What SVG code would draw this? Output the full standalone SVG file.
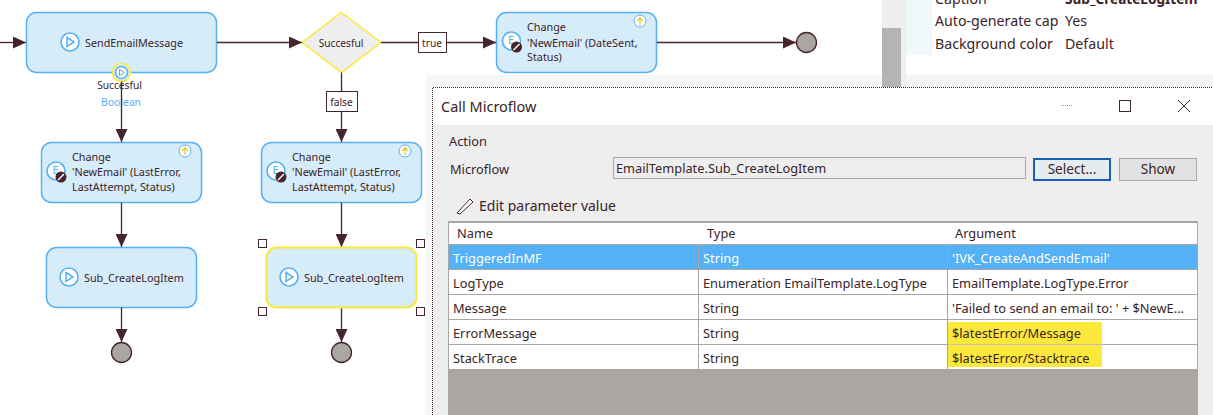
<svg xmlns="http://www.w3.org/2000/svg" width="1213" height="415" viewBox="0 0 1213 415">
<style>
text{font-family:"Noto Sans","Open Sans","Liberation Sans",sans-serif;fill:#3a2428}
.n{font-size:10.800px}
.s{font-size:10.200px}
.u{font-size:12.800px}
.p{font-size:14.200px}
.b{font-size:13.600px}
.box{fill:#d6ecf9;stroke:#55b1f6;stroke-width:1.5}
.sel{fill:#d6ecf9;stroke:#fce83a;stroke-width:2}
.c{fill:none;stroke:#45252b;stroke-width:1.300}
.end{fill:#aaa6a3;stroke:#45252b;stroke-width:1.300}
.ic{fill:#fff;stroke:#55b1f6;stroke-width:1.600}
.tri{fill:none;stroke:#55b1f6;stroke-width:1.5}
.h{fill:#fff;stroke:#45252b;stroke-width:1}
.g{stroke:#aaa6a3;stroke-width:1;fill:none}
</style>
<defs>
<marker id="a" markerUnits="userSpaceOnUse" markerWidth="13" markerHeight="12" refX="13" refY="6" orient="auto"><path d="M0 0L13 6L0 12Z" fill="#45252b"/></marker>
<g id="play"><circle r="9" class="ic"/><path d="M-3-4.500L4 0L-3 4.500Z" class="tri"/></g>
<g id="chg"><circle r="9" class="ic"/><text x="-3.500" y="3" style="font-size:11px;fill:#55b1f6">E</text><circle cx="5" cy="6" r="5.500" fill="#45252b"/><path d="M2 9L8 3" stroke="#fff" stroke-width="1.500"/></g>
<g id="up"><circle r="6" fill="#fff" stroke="#55b1f6"/><path d="M0 4V-3M-3 0L0-3.500L3 0" fill="none" stroke="#e8c72e" stroke-width="1.200"/></g>
</defs>
<rect width="1213" height="415" fill="#fff"/>
<g id="send"><rect class="box" x="26.500" y="12.500" width="190" height="60" rx="10"/><use href="#play" x="70" y="42"/><text class="n" x="85" y="46.500">SendEmailMessage</text></g>
<g id="param"><circle cx="121.500" cy="72.500" r="9" fill="#d6ecf9" stroke="#fce83a" stroke-width="1.500"/><circle cx="121.500" cy="72.500" r="6" class="ic"/><path d="M119.500 69.500L124.500 72.500L119.500 75.500Z" fill="none" stroke="#55b1f6"/><text class="s" x="119.500" y="89" text-anchor="middle">Succesful</text><text x="121" y="106" text-anchor="middle" style="font-size:10.300px;fill:#55b1f6">Boolean</text></g>
<g id="decision"><path d="M341.500 12.500L381 42.500L341.500 72.500L302 42.500Z" fill="#eee" stroke="#fce83a" stroke-width="1.500"/><text class="s" x="341" y="46.500" text-anchor="middle">Succesful</text></g>
<g id="change-true"><rect class="box" x="496.500" y="12.500" width="160" height="60" rx="10"/><use href="#chg" x="511.500" y="41"/><use href="#up" x="640" y="21"/><text class="n" x="527" y="31">Change</text><text class="n" x="527" y="46.500">'NewEmail' (DateSent,</text><text class="n" x="527" y="61">Status)</text></g>
<g id="end-top"><circle class="end" cx="806.500" cy="42.500" r="10"/></g>
<g id="change-a"><rect class="box" x="41.500" y="142.500" width="160" height="60" rx="10"/><use href="#chg" x="56" y="171"/><use href="#up" x="185" y="151"/><text class="n" x="72" y="161">Change</text><text class="n" x="72" y="176">'NewEmail' (LastError,</text><text class="n" x="72" y="191">LastAttempt, Status)</text></g>
<g id="change-b"><rect class="box" x="261.500" y="142.500" width="160" height="60" rx="10"/><use href="#chg" x="276" y="171"/><use href="#up" x="405" y="151"/><text class="n" x="292" y="161">Change</text><text class="n" x="292" y="176">'NewEmail' (LastError,</text><text class="n" x="292" y="191">LastAttempt, Status)</text></g>
<g id="sub-a"><rect class="box" x="46.500" y="247.500" width="150" height="60" rx="10"/><use href="#play" x="69" y="277"/><text class="n" x="84" y="281.500">Sub_CreateLogItem</text></g>
<g id="end-a"><circle class="end" cx="121.500" cy="352.500" r="10"/></g>
<g id="end-b"><circle class="end" cx="341.500" cy="352.500" r="10"/></g>
<g id="connectors">
<path class="c" d="M0 42.500H26" marker-end="url(#a)"/>
<path class="c" d="M217 42.500H302" marker-end="url(#a)"/>
<path class="c" d="M381 42.500H496" marker-end="url(#a)"/>
<path class="c" d="M657 42.500H796" marker-end="url(#a)"/>
<path class="c" d="M341.500 72.500V142" marker-end="url(#a)"/>
<path class="c" d="M121.500 81.500V142" marker-end="url(#a)"/>
<path class="c" d="M121.500 202.500V247" marker-end="url(#a)"/>
<path class="c" d="M341.500 202.500V247" marker-end="url(#a)"/>
<path class="c" d="M121.500 307.500V342" marker-end="url(#a)"/>
<path class="c" d="M341.500 307.500V342" marker-end="url(#a)"/>
</g>
<g id="label-true"><rect x="418.500" y="32.500" width="28" height="20" class="h"/><text class="s" x="432" y="46.500" text-anchor="middle">true</text></g>
<g id="label-false"><rect x="326.500" y="91.500" width="31" height="20" class="h"/><text class="s" x="341.500" y="105.500" text-anchor="middle">false</text></g>
<g id="properties">
<rect x="906" y="0" width="26" height="55" fill="#f1f8fc"/>
<rect x="882" y="0" width="24" height="87" fill="#eee"/>
<rect x="882" y="28" width="19" height="59" fill="#b4b4b4"/>
<rect x="906" y="75" width="307" height="12" fill="#f5f5f5"/>
<text class="b" x="1065" y="4" style="font-weight:700">Sub_CreateLogItem</text>
<text class="p" x="935" y="4">Caption</text>
<text class="p" x="935" y="26">Auto-generate cap</text>
<rect x="1061" y="10" width="3" height="24" fill="#fff"/>
<text class="p" x="1065" y="26">Yes</text>
<text class="p" x="935" y="49">Background color</text>
<text class="p" x="1065" y="49">Default</text>
</g>
<g id="dialog">
<rect x="426" y="75" width="6" height="340" fill="#f7f7f7"/>
<rect x="432" y="75" width="450" height="12" fill="#f7f7f7"/>
<rect x="432" y="87" width="781" height="328" fill="#eee"/>
<rect x="432" y="87" width="781" height="38" fill="#fff"/>
<path d="M432.500 415V87.500H1213" fill="none" stroke="#45252b" stroke-dasharray="1 1"/>
<text x="441" y="112" style="font-size:14.500px">Call Microflow</text>
<path d="M1061 105.500H1073" stroke="#8a9aa8" stroke-dasharray="1 1"/>
<rect x="1119.500" y="100.500" width="11" height="11" fill="none" stroke="#45252b"/>
<path d="M1178 100L1190 112M1190 100L1178 112" stroke="#45252b" fill="none"/>
<rect x="440.500" y="140.500" width="765" height="270" fill="none" stroke="#dbeaf3" stroke-dasharray="1 2"/>
<text class="u" x="449" y="146">Action</text>
<text class="u" x="450" y="174">Microflow</text>
<rect x="613.500" y="157.500" width="412" height="21" fill="#eee" stroke="#aaa6a3"/>
<text class="u" x="616" y="173">EmailTemplate.Sub_CreateLogItem</text>
<rect x="1034" y="159" width="76" height="21" fill="#e4ecf0" stroke="#1a5fb4" stroke-width="2"/>
<text class="b" x="1072" y="174" text-anchor="middle">Select...</text>
<rect x="1119.500" y="158.500" width="77" height="22" fill="#e2e2e2" stroke="#aaa6a3"/>
<text class="b" x="1158" y="174" text-anchor="middle">Show</text>
<path d="M457 213L470 199L473 202L460 214Z" fill="#fff" stroke="#45252b"/>
<text x="479" y="211" style="font-size:14px">Edit parameter value</text>
<rect x="448" y="222" width="750" height="193" fill="#aaa6a3"/>
<rect x="449" y="223" width="748" height="146" fill="#fff"/>
<rect x="449" y="245" width="748" height="24" fill="#55b1f6"/>
<path class="g" d="M448.500 222V369M1197.500 222V369M448 221.500H1198M449 244.500H1197M449 269.500H1197M449 294.500H1197M449 319.500H1197M449 344.500H1197M698.500 245V369M947.500 245V369"/>
<rect x="948" y="322" width="154" height="45" fill="#fce83a"/>
<path d="M948 344.500H1102" stroke="#aaa6a3" stroke-dasharray="1 1"/>
<text class="u" x="457" y="238">Name</text><text class="u" x="707" y="238">Type</text><text class="u" x="955" y="238">Argument</text>
<text class="u" x="453" y="263" style="fill:#fff">TriggeredInMF</text><text class="u" x="703" y="263" style="fill:#fff">String</text><text class="u" x="952" y="263" style="fill:#fff">'IVK_CreateAndSendEmail'</text>
<text class="u" x="453" y="288">LogType</text><text class="u" x="703" y="288">Enumeration EmailTemplate.LogType</text><text class="u" x="952" y="288">EmailTemplate.LogType.Error</text>
<text class="u" x="453" y="313">Message</text><text class="u" x="703" y="313">String</text><text class="u" x="952" y="313">'Failed to send an email to: ' + $NewE...</text>
<text class="u" x="453" y="338">ErrorMessage</text><text class="u" x="703" y="338">String</text><text class="u" x="952" y="338">$latestError/Message</text>
<text class="u" x="453" y="363">StackTrace</text><text class="u" x="703" y="363">String</text><text class="u" x="952" y="363">$latestError/Stacktrace</text>
</g>
<g id="sub-b"><rect class="sel" x="266.500" y="247.500" width="150" height="60" rx="10"/><use href="#play" x="289" y="277"/><text class="n" x="304" y="281.500">Sub_CreateLogItem</text>
<rect class="h" x="258.500" y="239.500" width="8" height="8"/><rect class="h" x="416.500" y="239.500" width="8" height="8"/><rect class="h" x="258.500" y="307.500" width="8" height="8"/><rect class="h" x="416.500" y="307.500" width="8" height="8"/></g>
</svg>
